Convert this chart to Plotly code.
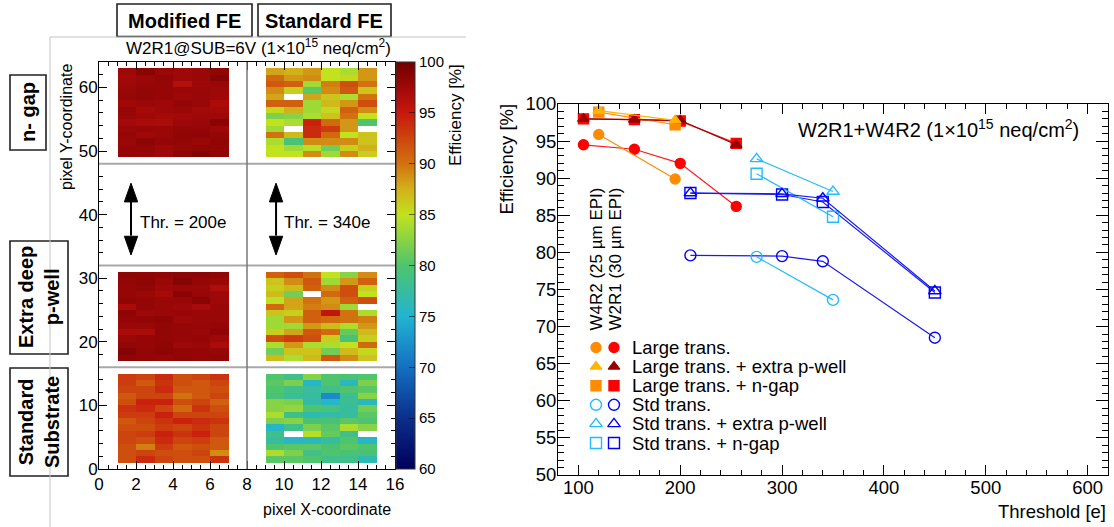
import plotly.graph_objects as go

W, H = 1114, 527
FONT = "Liberation Sans, Arial, Helvetica, sans-serif"

# ------------------------------------------------------------------
# Pixel efficiency maps (rows listed top -> bottom, 6 columns each)
# ------------------------------------------------------------------
mod_ngap = [
    [97.6, 98.6, 97.8, 97.6, 97.8, 98.3],
    [97.4, 97.8, 98.2, 97.6, 97.8, 98.8],
    [97.6, 97.9, 98.0, 96.3, 97.6, 97.8],
    [97.8, 98.2, 98.0, 97.8, 97.8, 97.6],
    [97.9, 98.1, 98.0, 97.6, 97.8, 97.5],
    [97.5, 97.8, 97.6, 98.0, 97.8, 96.8],
    [97.9, 97.2, 97.6, 97.8, 97.4, 97.2],
    [97.8, 97.5, 97.2, 97.4, 97.6, 97.6],
    [97.4, 97.0, 96.9, 97.6, 97.8, 98.6],
    [97.8, 97.9, 97.8, 98.2, 98.0, 97.6],
    [98.0, 97.6, 97.8, 98.3, 98.4, 98.0],
    [97.8, 98.5, 98.0, 98.2, 97.8, 98.3],
    [98.0, 98.0, 97.6, 97.9, 98.3, 98.1],
    [98.0, 97.9, 97.6, 98.5, 99.0, 98.4],
]
std_ngap = [
    [88.0, 87.5, 88.5, 85.0, 84.0, 88.5],
    [90.5, 88.5, 89.0, 85.0, 85.5, 88.5],
    [91.5, 91.0, 83.5, 89.5, 92.0, 90.0],
    [89.0, 86.0, 80.5, 89.0, 91.5, 86.5],
    [88.0, None, 88.0, 86.5, 84.0, 90.0],
    [91.0, 91.0, 83.5, 87.0, 88.5, 92.0],
    [85.5, 87.5, 83.5, 85.5, 91.0, 89.0],
    [82.0, 82.5, 84.0, 86.5, 90.0, 85.0],
    [85.0, 84.0, 94.5, 90.5, 88.5, 80.0],
    [83.5, None, 94.0, 93.0, 88.5, None],
    [90.0, 87.0, 94.0, 90.5, 85.0, 86.5],
    [84.0, 79.5, 89.0, 89.0, 89.0, 86.5],
    [85.0, 83.5, 84.5, 81.5, 86.0, 87.5],
    [85.0, 85.0, 89.0, 83.5, 89.0, 86.0],
]
mod_pwell = [
    [98.5, 98.3, 98.2, 98.5, 98.5, 98.2],
    [98.2, 98.5, 97.8, 98.8, 98.0, 97.8],
    [98.0, 98.2, 97.6, 97.8, 97.8, 96.6],
    [98.0, 97.8, 97.2, 98.6, 97.9, 97.6],
    [98.3, 98.0, 97.8, 97.9, 98.6, 97.6],
    [96.8, 98.2, 97.8, 97.6, 97.0, 97.8],
    [98.4, 97.6, 97.8, 97.9, 97.8, 97.8],
    [98.0, 98.2, 98.4, 97.6, 97.8, 97.8],
    [97.8, 97.8, 98.2, 98.0, 97.9, 98.0],
    [96.8, 96.9, 98.2, 98.0, 97.8, 98.4],
    [97.8, 98.0, 98.2, 97.9, 98.0, 97.6],
    [98.2, 98.0, 98.3, 97.6, 97.8, 96.8],
    [98.9, 98.2, 98.4, 98.2, 98.0, 97.9],
    [98.4, 98.2, 98.0, 98.3, 98.0, 98.2],
]
std_pwell = [
    [91.0, 92.0, 90.0, 85.0, 82.5, 89.0],
    [86.5, 89.0, 91.5, 83.5, 88.5, 91.0],
    [86.0, 87.0, 91.0, 89.0, 92.0, 86.0],
    [87.0, 81.5, None, 90.5, 92.0, 85.0],
    [84.8, 88.0, 90.0, 88.5, 91.0, 92.0],
    [90.5, 88.0, 89.5, 89.0, 83.5, None],
    [86.5, 86.0, 91.0, 95.5, 90.0, 84.0],
    [83.5, 88.5, 91.0, 90.5, 90.0, 89.5],
    [83.5, 83.5, 88.5, 87.0, 84.0, 88.5],
    [86.0, 88.0, 91.5, 90.5, 81.0, 87.0],
    [92.0, 93.0, 92.0, 86.0, 79.5, 86.0],
    [84.0, 88.5, 84.0, 84.0, 85.0, 90.5],
    [81.5, 86.5, 86.5, 81.5, 87.0, 85.5],
    [87.0, 84.0, 87.0, 91.5, 89.0, 86.5],
]
mod_sub = [
    [93.0, 92.5, 94.0, 92.0, 92.5, 93.5],
    [93.0, 91.5, 93.5, 92.0, 91.5, 92.5],
    [92.5, 92.5, 94.0, 91.5, 91.5, 92.0],
    [91.5, 92.5, 92.5, 90.0, 91.5, 92.5],
    [92.0, 94.5, 94.5, 92.0, 92.5, 91.0],
    [93.5, 94.0, 92.5, 90.5, 93.5, 92.0],
    [93.0, 93.0, 94.5, 92.5, 92.5, 92.5],
    [91.5, 92.5, 93.5, 94.5, 94.0, 93.5],
    [92.0, 92.0, 93.0, 92.5, 93.5, 92.5],
    [92.5, 93.0, 94.5, 93.5, 94.5, 92.5],
    [92.5, 92.0, 94.0, 92.5, 93.0, 91.5],
    [92.0, 89.5, 93.0, 91.5, 92.0, 91.5],
    [92.0, 92.5, 92.0, 92.0, 92.5, 89.0],
    [92.0, 94.0, 92.5, 92.0, 92.0, 93.5],
]
std_sub = [
    [80.0, 78.5, 82.5, 80.0, 79.5, 80.0],
    [80.5, 82.0, 75.5, 80.0, 76.0, 82.0],
    [80.0, 78.5, 77.5, 78.5, 80.0, 80.5],
    [79.5, 78.0, 77.5, 72.0, 78.0, 82.5],
    [82.5, 82.0, 77.0, 75.5, 78.0, 76.0],
    [82.5, 83.0, 80.0, 79.0, 77.5, 81.5],
    [84.0, 78.5, 76.5, 77.0, 77.5, 80.5],
    [82.0, 82.5, 79.5, 79.5, 80.5, 80.0],
    [75.5, 78.5, 82.0, 80.5, 84.0, 82.5],
    [78.5, None, 84.5, 81.0, 78.5, None],
    [77.5, 75.5, 76.0, 77.5, 80.0, 75.5],
    [80.0, 80.5, 80.5, 79.5, 80.5, 80.0],
    [84.0, 82.0, 78.5, 80.0, 79.5, 79.5],
    [80.5, 80.5, 80.0, 78.5, 78.5, 76.5],
]
# (block values, first column index, bottom row index)
map_blocks = [
    (mod_ngap, 1, 49), (std_ngap, 9, 49),
    (mod_pwell, 1, 17), (std_pwell, 9, 17),
    (mod_sub, 1, 1), (std_sub, 9, 1),
]
n_cols, n_rows = 16, 64

# ------------------------------------------------------------------
# Efficiency vs threshold
# ------------------------------------------------------------------
thr_w2r1_large = [105, 155, 200, 255]
eff_w2r1_large = [94.5, 93.9, 92.0, 86.2]
eff_w2r1_large_pwell = [98.0, 97.9, 97.8, 94.5]
eff_w2r1_large_ngap = [98.0, 97.9, 97.7, 94.7]

thr_w4r2_large = [120, 195]
eff_w4r2_large = [95.9, 89.9]
eff_w4r2_large_pwell = [99.1, 97.8]
eff_w4r2_large_ngap = [98.9, 97.2]

thr_w2r1_std = [210, 300, 340, 450]
eff_w2r1_std = [79.6, 79.5, 78.8, 68.5]
eff_w2r1_std_pwell = [88.0, 87.9, 87.3, 74.8]
eff_w2r1_std_ngap = [88.0, 87.8, 86.8, 74.6]

thr_w4r2_std = [275, 350]
eff_w4r2_std = [79.4, 73.6]
eff_w4r2_std_pwell = [92.6, 88.2]
eff_w4r2_std_ngap = [90.6, 84.8]

legend_labels = ["Large trans.", "Large trans. + extra p-well", "Large trans. + n-gap",
                 "Std trans.", "Std trans. + extra p-well", "Std trans. + n-gap"]

# series: (legend row, wafer column, x, y, symbol, marker colour, line colour)
series = [
    (0, 1, thr_w2r1_large, eff_w2r1_large, "circle", "#ff0000", "#ff1a1a"),
    (0, 0, thr_w4r2_large, eff_w4r2_large, "circle", "#ff8c00", "#ff8c00"),
    (2, 1, thr_w2r1_large, eff_w2r1_large_ngap, "square", "#ff0000", "#ee2020"),
    (2, 0, thr_w4r2_large, eff_w4r2_large_ngap, "square", "#ff8c00", "#ff8c00"),
    (1, 1, thr_w2r1_large, eff_w2r1_large_pwell, "triangle-up", "#990000", "#990000"),
    (1, 0, thr_w4r2_large, eff_w4r2_large_pwell, "triangle-up", "#ffb400", "#ffb400"),
    (3, 1, thr_w2r1_std, eff_w2r1_std, "circle-open", "#0000ff", "#1a1aee"),
    (3, 0, thr_w4r2_std, eff_w4r2_std, "circle-open", "#22bbff", "#22bbff"),
    (5, 1, thr_w2r1_std, eff_w2r1_std_ngap, "square-open", "#0000ff", "#1a1aee"),
    (5, 0, thr_w4r2_std, eff_w4r2_std_ngap, "square-open", "#22bbff", "#22bbff"),
    (4, 1, thr_w2r1_std, eff_w2r1_std_pwell, "triangle-up-open", "#0000ff", "#1a1aee"),
    (4, 0, thr_w4r2_std, eff_w4r2_std_pwell, "triangle-up-open", "#22bbff", "#22bbff"),
]

# ------------------------------------------------------------------
def px(x):
    return x / W


def py(y):
    return 1 - y / H


colorscale = [
    [0.0, "#00005a"], [0.125, "#0a2f8c"], [0.25, "#1470c2"], [0.375, "#22b4d2"],
    [0.5, "#4ec46c"], [0.625, "#c2e21e"], [0.6875, "#d2b01a"], [0.75, "#d2720e"],
    [0.875, "#c8180e"], [0.9375, "#a00808"], [1.0, "#700000"],
]

z = [[None] * n_cols for _ in range(n_rows)]
for block, c0, r0 in map_blocks:
    top = r0 + len(block) - 1
    for i, row in enumerate(block):
        for j, v in enumerate(row):
            z[top - i][c0 + j] = v

fig = go.Figure()

fig.add_trace(go.Heatmap(
    x=[c + 0.5 for c in range(n_cols)], y=[r + 0.5 for r in range(n_rows)], z=z,
    zmin=60, zmax=100, colorscale=colorscale, xaxis="x", yaxis="y",
    hoverongaps=False,
    colorbar=dict(
        x=px(396), xanchor="left", y=py(62), yanchor="top",
        lenmode="pixels", len=407, thickness=19, xpad=0, ypad=0,
        outlinewidth=1, outlinecolor="#333333",
        tickmode="linear", tick0=60, dtick=5, ticks="inside", ticklen=6,
        tickcolor="rgba(0,0,0,0.55)", tickfont=dict(family=FONT, size=15, color="black"),
    ),
))

for row, col, xs, ys, sym, mcol, lcol in series:
    open_sym = sym.endswith("open")
    fig.add_trace(go.Scatter(
        x=xs, y=ys, mode="lines+markers", xaxis="x2", yaxis="y2", showlegend=False,
        line=dict(color=lcol, width=1.2),
        marker=dict(symbol=sym, color=mcol, size=10 if not open_sym else 11,
                    line=dict(width=1.4, color=mcol)),
    ))

# custom two-column legend (glyphs on a hidden pixel-space axis)
leg_x = [596, 614]
leg_y0, leg_dy = 347.5, 19.1
for row, col, xs, ys, sym, mcol, lcol in series:
    open_sym = sym.endswith("open")
    fig.add_trace(go.Scatter(
        x=[leg_x[col]], y=[leg_y0 + row * leg_dy], mode="markers", xaxis="x3", yaxis="y3",
        showlegend=False, hoverinfo="skip",
        marker=dict(symbol=sym, color=mcol, size=10 if not open_sym else 11,
                    line=dict(width=1.4, color=mcol)),
    ))

annotations = []


def ann(text, x, y, size, xanchor="center", yanchor="middle", angle=0, bold=False, **kw):
    if bold:
        text = "<b>" + text + "</b>"
    annotations.append(dict(
        text=text, x=px(x), y=py(y), xref="paper", yref="paper", showarrow=False,
        xanchor=xanchor, yanchor=yanchor, textangle=angle,
        font=dict(family=FONT, size=size, color="black"), **kw))


for i, lab in enumerate(legend_labels):
    ann(lab, 630, leg_y0 + i * leg_dy, 18.5, xanchor="left")

ann("W4R2 (25 \u00b5m EPI)", 596, 186, 17, yanchor="top", angle=-90)
ann("W2R1 (30 \u00b5m EPI)", 615, 186, 17, yanchor="top", angle=-90)
ann("W2R1+W4R2 (1\u00d710<sup>15</sup> neq/cm<sup>2</sup>)", 796, 128, 20, xanchor="left")
ann("Efficiency [%]", 506, 102, 18.5, yanchor="top", angle=-90)
ann("Threshold [e]", 1108, 511, 18.5, xanchor="right")

ann("W2R1@SUB=6V (1\u00d710<sup>15</sup> neq/cm<sup>2</sup>)", 258, 47, 17)
ann("pixel Y-coordinate", 66, 62, 16, yanchor="top", angle=-90)
ann("pixel X-coordinate", 393, 509, 16, xanchor="right")
ann("Efficiency [%]", 455, 62, 17, yanchor="top", angle=-90)

ann("Modified FE", 184.5, 20.5, 20, bold=True)
ann("Standard FE", 324, 20.5, 20, bold=True)
ann("n- gap", 28, 112, 20, angle=-90, bold=True)
ann("Extra deep<br>p-well", 39, 297, 20, angle=-90, bold=True)
ann("Standard<br>Substrate", 39, 422, 20, angle=-90, bold=True)

# threshold notes in the map
annotations.append(dict(text="Thr. = 200e", x=2.1, y=38.8, xref="x", yref="y", showarrow=False,
                        xanchor="left", font=dict(family=FONT, size=17, color="black")))
annotations.append(dict(text="Thr. = 340e", x=9.9, y=38.8, xref="x", yref="y", showarrow=False,
                        xanchor="left", font=dict(family=FONT, size=17, color="black")))

shapes = []


def box(x0, y0, x1, y1):
    shapes.append(dict(type="rect", xref="paper", yref="paper", x0=px(x0), x1=px(x1),
                       y0=py(y1), y1=py(y0), line=dict(color="#222222", width=1.6)))


box(117, 4, 252, 36.5)
box(258, 4, 391, 36.5)
box(10, 75, 46, 150)
box(10, 241, 68, 354)
box(10, 368, 68, 476)

# pad frame lines
shapes.append(dict(type="line", xref="paper", yref="paper", x0=px(50), x1=px(50), y0=py(37), y1=0,
                   line=dict(color="#c4c4c4", width=1)))
shapes.append(dict(type="line", xref="paper", yref="paper", x0=px(50), x1=px(466), y0=py(37), y1=py(37),
                   line=dict(color="#c4c4c4", width=1)))

# region separators
for yv in (16, 32, 48):
    shapes.append(dict(type="line", xref="x", yref="y", x0=0, x1=16, y0=yv, y1=yv,
                       line=dict(color="#a8a8a8", width=2)))
shapes.append(dict(type="line", xref="x", yref="y", x0=8, x1=8, y0=0, y1=64,
                   line=dict(color="#777777", width=1.5)))

# double arrows
for xa in (1.73, 9.57):
    shapes.append(dict(type="line", xref="x", yref="y", x0=xa, x1=xa, y0=36.7, y1=42.0,
                       line=dict(color="black", width=2)))
    hw = 0.36
    shapes.append(dict(type="path", xref="x", yref="y",
                       path=f"M {xa},{44.95} L {xa-hw},{42.0} L {xa+hw},{42.0} Z",
                       fillcolor="black", line=dict(color="black", width=1)))
    shapes.append(dict(type="path", xref="x", yref="y",
                       path=f"M {xa},{33.65} L {xa-hw},{36.6} L {xa+hw},{36.6} Z",
                       fillcolor="black", line=dict(color="black", width=1)))

tickfont_l = dict(family=FONT, size=17, color="black")
tickfont_r = dict(family=FONT, size=18.5, color="black")
common = dict(showgrid=False, zeroline=False, showline=True, linecolor="black", linewidth=1,
              mirror="ticks", ticks="inside", tickcolor="black", fixedrange=True, automargin=False)

fig.update_layout(
    width=W, height=H, margin=dict(l=0, r=0, t=0, b=0, pad=0, autoexpand=False),
    paper_bgcolor="white", plot_bgcolor="rgba(0,0,0,0)", showlegend=False,
    font=dict(family=FONT, color="black"),
    xaxis=dict(domain=[px(99), px(395)], range=[0, 16], anchor="y", tickmode="linear",
               tick0=0, dtick=2, ticklen=8, tickfont=tickfont_l,
               minor=dict(dtick=0.5, ticklen=4, ticks="inside", tickcolor="black"), **common),
    yaxis=dict(domain=[py(469), py(62)], range=[0, 64], anchor="x", tickmode="linear",
               tick0=0, dtick=10, ticklen=8, tickfont=tickfont_l, ticklabelstandoff=-3,
               minor=dict(dtick=2, ticklen=4, ticks="inside", tickcolor="black"), **common),
    xaxis2=dict(domain=[px(558), px(1108)], range=[80, 620], anchor="y2", tickmode="linear",
                tick0=0, dtick=100, ticklen=10, tickfont=tickfont_r, ticklabelstandoff=-4,
                minor=dict(dtick=20, ticklen=5, ticks="inside", tickcolor="black"), **common),
    yaxis2=dict(domain=[py(475), py(104)], range=[50, 100], anchor="x2", tickmode="linear",
                tick0=50, dtick=5, ticklen=12, tickfont=tickfont_r, ticklabelstandoff=-3,
                minor=dict(dtick=1, ticklen=6, ticks="inside", tickcolor="black"), **common),
    xaxis3=dict(domain=[0, 1], range=[0, W], anchor="y3", visible=False, fixedrange=True),
    yaxis3=dict(domain=[0, 1], range=[H, 0], anchor="x3", visible=False, fixedrange=True),
    annotations=annotations, shapes=shapes,
)

fig.write_html("out.html", config={"displayModeBar": False},
               post_script="document.body.style.margin='0px';document.body.style.overflow='hidden';")
